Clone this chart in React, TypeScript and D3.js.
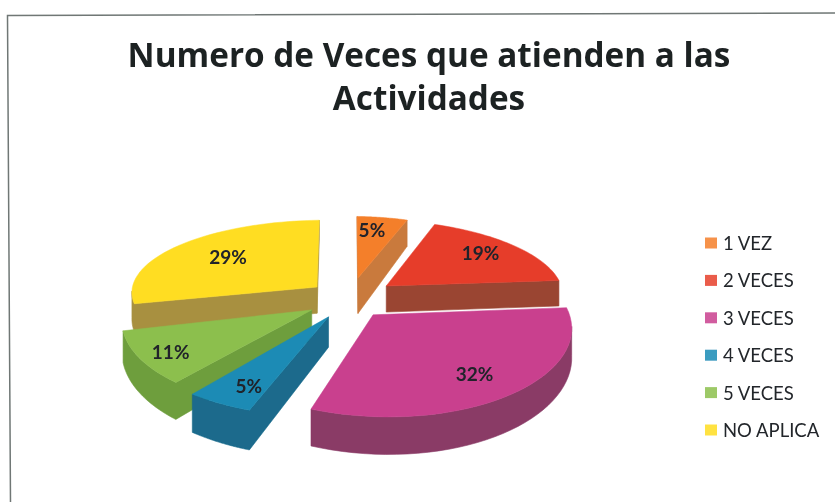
import React from "react";
import * as d3 from "d3";

const categories = ["1 VEZ", "2 VECES", "3 VECES", "4 VECES", "5 VECES", "NO APLICA"];
const values = [5, 19, 32, 5, 11, 29];
const topColors = ["#F47F2B", "#E63E2C", "#C9418E", "#1B8BB5", "#8CBF4E", "#FFDD22"];
const sideColors = ["#C97A3C", "#9A4433", "#8A3A66", "#1A6A8C", "#6E9E3E", "#A89040"];
const explodeAmount = [0.125, 0.13, 0.1, 0.085, 0.079, 0.083];
const explodeDeg = [21, 58, 137, 196, 229, 319];
const thickness = [38, 27, 26, 28, 28, 27];
const startAdjustDeg = [2, 5, 0, 0, 2, 0];
const endAdjustDeg = [3, 0, 1.5, 0, 0, -2];
const radiusScale = [1, 1, 0.98, 0.95, 0.98, 1];
const widthScale = [1, 1.03, 1.02, 1.09, 1, 1.08];
const labelFraction = [0.71, 0.75, 0.78, 0.8, 0.84, 0.66];
const drawOrder = [0, 1, 5, 4, 3, 2];
const titleLines = ["Numero de Veces que atienden a las", "Actividades"];

// Ground-plane perspective fitted to the picture
const horizonY = 102;
const vanishX = 340;
const focal = 440;
const camH = 193;
const centerD = 0.98;

type P = [number, number];
const rad = (d: number) => (d * Math.PI) / 180;
const projX = (X: number, D: number) => vanishX + (focal * X) / D;
const projY = (D: number) => horizonY + camH / D;
const plane = (cx: number, cD: number, a: number, r: number, wide = 1): [number, number] => [
  cx + r * wide * Math.sin(a),
  cD + r * Math.cos(a),
];
const rimR = (a: number) => 0.405 + 0.145 * Math.cos(a) + 0.04 * Math.cos(a) ** 2;
const line = d3.line<P>();
const arcs = d3.pie<number>().sort(null)(values);

function buildSlice(i: number) {
  const arc = arcs[i];
  const mid = (arc.startAngle + arc.endAngle) / 2;
  const [ax, aD] = plane(0, centerD, rad(explodeDeg[i]), explodeAmount[i]);
  const angleAt = d3
    .scaleLinear()
    .domain([0, 40])
    .range([arc.startAngle + rad(startAdjustDeg[i]), arc.endAngle + rad(endAdjustDeg[i])]);
  const world: [number, number][] = [
    [ax, aD],
    ...d3
      .range(0, 41)
      .map((k) => plane(ax, aD, angleAt(k), rimR(angleAt(k)) * radiusScale[i], widthScale[i])),
  ];
  const top: P[] = world.map(([x, D]) => [projX(x, D), projY(D)]);
  const bottom: P[] = world.map(([x, D]) => [
    projX(x, D),
    projY(D) + thickness[i] / Math.pow(D, 0.75),
  ]);
  // Group consecutive front-facing edges of the outline into one extruded polygon
  const sides: string[] = [];
  const n = top.length;
  let run: number[] = [];
  const flush = () => {
    if (run.length > 1) {
      const a = run.map((k) => top[k]);
      const b = run.map((k) => bottom[k]).reverse();
      sides.push(line([...a, ...b])! + "Z");
    }
    run = [];
  };
  for (let k = 0; k < n; k++) {
    const j = (k + 1) % n;
    if (top[j][0] - top[k][0] < 0) {
      if (run.length === 0) run.push(k);
      run.push(j);
    } else {
      flush();
    }
  }
  flush();
  const [lx, lD] = plane(ax, aD, mid, rimR(mid) * labelFraction[i]);
  return { top: line(top)! + "Z", sides, label: [projX(lx, lD), projY(lD)] as P };
}

export default function App() {
  const slices = values.map((_, i) => buildSlice(i));
  const legendY = d3.scalePoint<number>().domain(d3.range(categories.length)).range([243, 430]);
  const font = "Lato, 'Open Sans', sans-serif";
  return (
    <svg
      width={835}
      height={502}
      viewBox="0 0 835 502"
      style={{ position: "absolute", left: 0, top: 0, background: "#fff" }}
    >
      <defs>
        <filter id="soft" x="-5%" y="-5%" width="110%" height="110%">
          <feGaussianBlur stdDeviation="0.6" />
        </filter>
      </defs>
      <g filter="url(#soft)">
        <path d="M10.5,502L7.5,15.5L835,13" fill="none" stroke="#6f7775" strokeWidth={1.5} />
        {titleLines.map((t, i) => (
          <text
            key={t}
            x={429}
            y={67 + i * 43}
            textAnchor="middle"
            fontFamily="'Open Sans', sans-serif"
            fontWeight={700}
            fontSize={33.3}
            fill="#1e2024"
          >
            {t}
          </text>
        ))}
        {drawOrder.map((i) => (
          <g key={categories[i]}>
            {slices[i].sides.map((d, k) => (
              <path key={k} d={d} fill={sideColors[i]} stroke={sideColors[i]} strokeWidth={0.6} />
            ))}
            <path d={slices[i].top} fill={topColors[i]} stroke={topColors[i]} strokeWidth={0.5} />
          </g>
        ))}
        {drawOrder.map((i) => (
          <text
            key={categories[i]}
            x={slices[i].label[0]}
            y={slices[i].label[1]}
            textAnchor="middle"
            dominantBaseline="central"
            fontFamily={font}
            fontWeight={700}
            fontSize={19}
            fill="#20242a"
          >
            {values[i]}%
          </text>
        ))}
        {categories.map((c, i) => (
          <g key={c}>
            <rect x={705} y={legendY(i)! - 5.5} width={12} height={11} fill={topColors[i]} opacity={0.85} />
            <text
              x={723}
              y={legendY(i)!}
              dominantBaseline="central"
              fontFamily={font}
              fontSize={18.5}
              fill="#23262b"
            >
              {c}
            </text>
          </g>
        ))}
      </g>
    </svg>
  );
}
